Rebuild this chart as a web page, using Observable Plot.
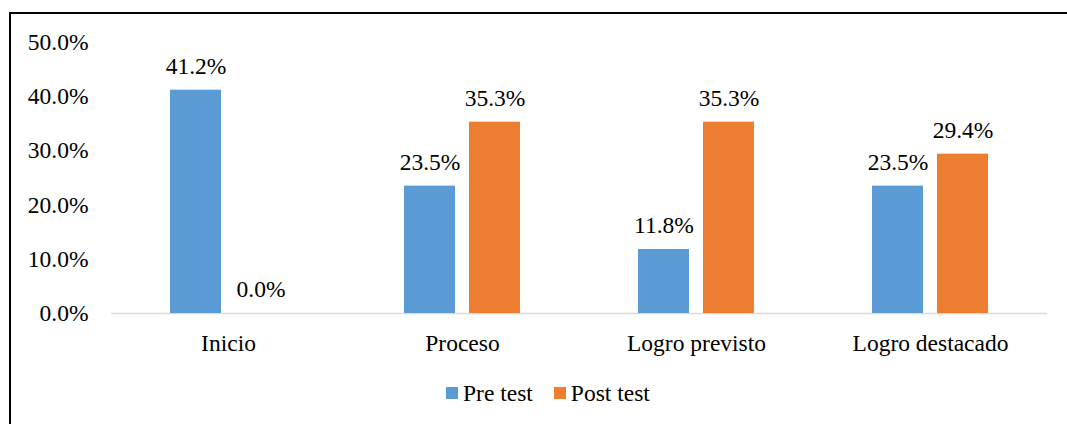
<!DOCTYPE html>
<html><head><meta charset="utf-8">
<script src="https://cdn.jsdelivr.net/npm/d3@7"></script>
<script src="https://cdn.jsdelivr.net/npm/@observablehq/plot@0.6"></script>
<style>
html,body{margin:0;padding:0;background:#fff;overflow:hidden;width:1067px;height:424px}
#chart{position:absolute;left:0;top:0}
#chart svg, #chart svg text{font-family:"Liberation Serif","Times New Roman",serif !important}
#frame{position:absolute;left:9px;top:12px;width:1200px;height:600px;border-left:2px solid #000;border-top:2px solid #000;pointer-events:none}
#legend{position:absolute;left:446px;top:381px;height:24px;display:flex;align-items:center;font-family:"Liberation Serif","Times New Roman",serif;font-size:23.5px;color:#000;line-height:24px}
#legend .item{display:flex;align-items:center;margin-right:21px}
#legend .sw{width:12px;height:12px;margin-right:5px}
</style></head>
<body>
<div id="chart"></div>
<div id="legend"></div>
<div id="frame"></div>
<script>
const categories = ["Inicio", "Proceso", "Logro previsto", "Logro destacado"];
const series = ["Pre test", "Post test"];
const preTest = [41.2, 23.5, 11.8, 23.5];
const postTest = [0.0, 35.3, 35.3, 29.4];
const colors = ["#5B9BD5", "#ED7D31"];
const yTicks = [0, 10, 20, 30, 40, 50];

const data = [];
categories.forEach((c, i) => {
  data.push({category: c, series: series[0], value: preTest[i]});
  data.push({category: c, series: series[1], value: postTest[i]});
});
const fmt = d => d.toFixed(1) + "%";
const serif = "'Liberation Serif', 'Times New Roman', serif";

const chart = Plot.plot({
  width: 1067,
  height: 370,
  marginTop: 42,
  marginBottom: 57,
  marginLeft: 110,
  marginRight: 19,
  style: {background: "transparent", fontFamily: serif, fontSize: "23.5px", color: "#000"},
  fx: {domain: categories, padding: 0, axis: null},
  x: {domain: series, paddingInner: 0.212, paddingOuter: 0.882, axis: null},
  y: {domain: [0, 50], axis: null},
  color: {domain: series, range: colors},
  marks: [
    Plot.ruleY([0], {stroke: "#d9d9d9", strokeWidth: 1.5}),
    Plot.barY(data, {fx: "category", x: "series", y: "value", fill: "series"}),
    Plot.text(data, {fx: "category", x: "series", y: "value", text: d => fmt(d.value), dy: -16.5, lineAnchor: "bottom", fill: "#000", fontSize: 23.5, fontFamily: serif}),
    Plot.axisY({ticks: yTicks, tickSize: 0, tickPadding: 23, tickFormat: fmt, label: null, fontSize: 23.5, fontFamily: serif}),
    Plot.axisFx({anchor: "bottom", tickSize: 0, tickPadding: 21, label: null, fontSize: 23.5, fontFamily: serif})
  ]
});
document.getElementById("chart").appendChild(chart);

const legend = document.getElementById("legend");
series.forEach((s, i) => {
  const item = document.createElement("div");
  item.className = "item";
  const sw = document.createElement("span");
  sw.className = "sw";
  sw.style.background = colors[i];
  const t = document.createElement("span");
  t.textContent = s;
  item.appendChild(sw); item.appendChild(t);
  legend.appendChild(item);
});
</script>
</body></html>
